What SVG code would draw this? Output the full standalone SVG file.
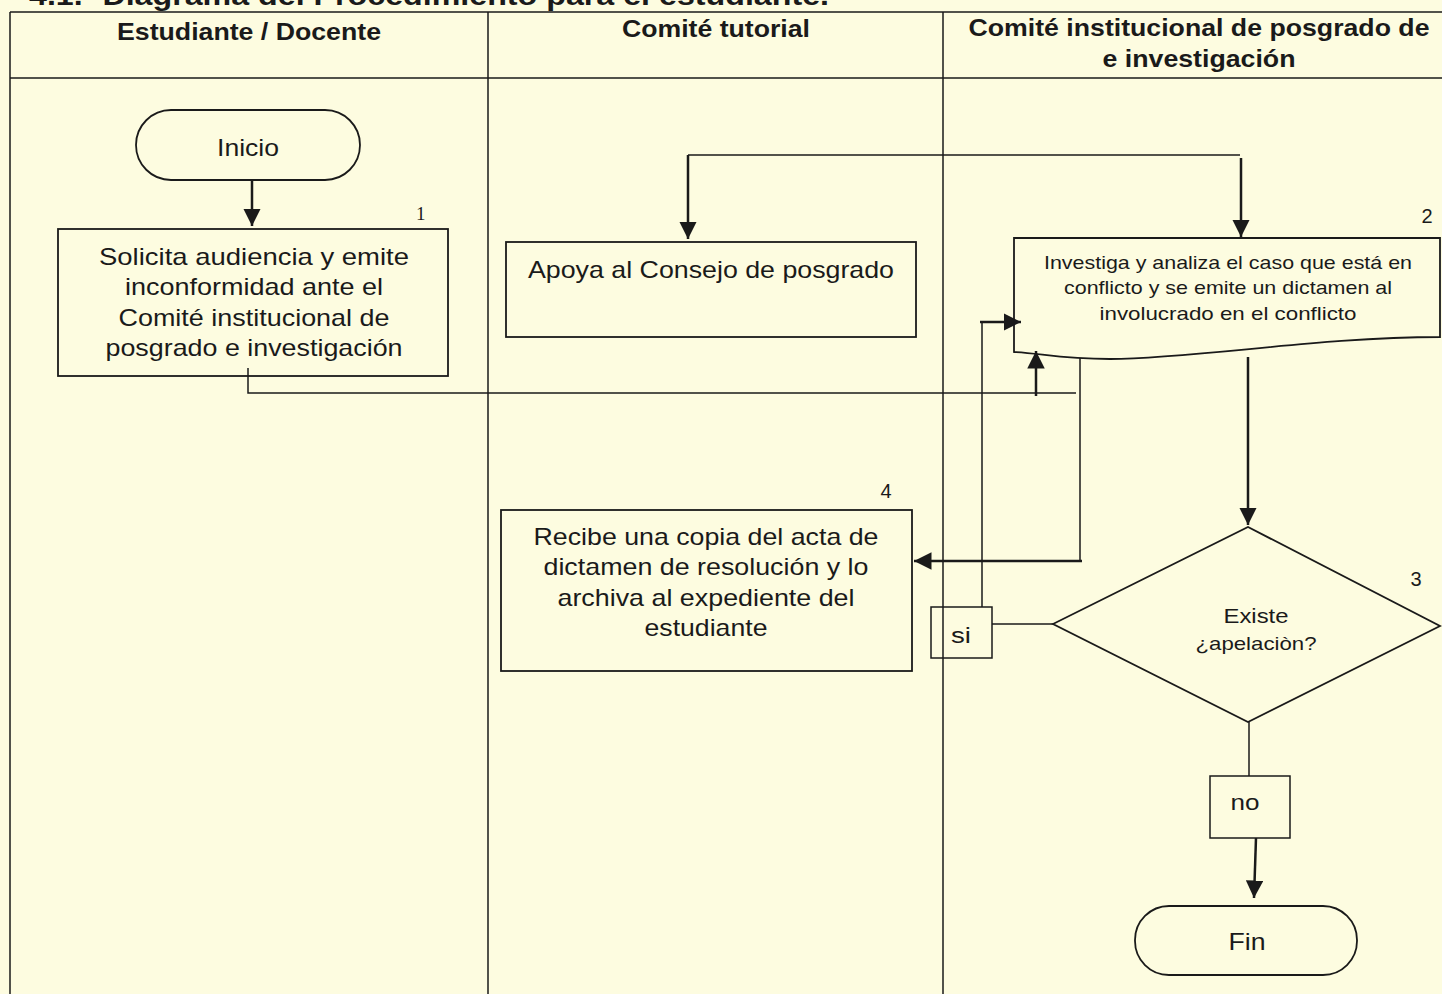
<svg xmlns="http://www.w3.org/2000/svg" width="1442" height="994" viewBox="0 0 1442 994">
<defs>
<marker id="ahb" viewBox="0 0 10 10" refX="10" refY="5" markerWidth="7" markerHeight="7" markerUnits="strokeWidth" orient="auto">
<path d="M0,0 L10,5 L0,10 Z" fill="#1a1a1a"/>
</marker>
<style>
.bg{fill:#fdfce0}
.ln{stroke:#1a1a1a;stroke-width:1.5;fill:none}
.sh{stroke:#1a1a1a;stroke-width:1.8;fill:none}
.ar{stroke:#1a1a1a;stroke-width:2.5;fill:none;marker-end:url(#ahb)}
.t{font-family:"Liberation Sans",Arial,sans-serif;fill:#1a1a1a;text-anchor:middle}
.h{font-weight:bold;font-size:24px}
.b{font-size:24px}
.s{font-size:19px}
.n{font-size:20px}
</style>
</defs>
<rect class="bg" x="0" y="0" width="1442" height="994"/>
<text class="t" x="429" y="5" textLength="800" lengthAdjust="spacingAndGlyphs" style="font-weight:bold;font-size:27px">4.1.- Diagrama del Procedimiento para el estudiante.</text>
<g id="lanes">
<path class="ln" d="M10,12 H1442 M10,12 V994 M10,78 H1442 M488,12 V994 M943,12 V994"/>
<text class="t h" x="249" y="40" textLength="264" lengthAdjust="spacingAndGlyphs">Estudiante / Docente</text>
<text class="t h" x="716" y="37" textLength="188" lengthAdjust="spacingAndGlyphs">Comité tutorial</text>
<text class="t h" x="1199" y="36" textLength="461" lengthAdjust="spacingAndGlyphs">Comité institucional de posgrado de</text>
<text class="t h" x="1199" y="67" textLength="193" lengthAdjust="spacingAndGlyphs">e investigación</text>
</g>
<g id="connectors">
<path class="ar" d="M252,181 V226"/>
<path class="ln" d="M688,155 H1240"/>
<path class="ar" d="M688,155 V239"/>
<path class="ar" d="M1241,158 V237"/>
<path class="ln" d="M248,368 V393 H1076"/>
<path class="ar" d="M1036,396 V351"/>
<path class="ln" d="M1080,358 V561"/>
<path class="ar" d="M1082,561 H914"/>
<path class="ar" d="M1248,357 V525"/>
<path class="ln" d="M1053,624 H992"/>
<path class="ln" d="M982,607 V322 H1000"/>
<path class="ar" d="M980,322 H1021"/>
<path class="ln" d="M1249,722 V776"/>
<path class="ar" d="M1256,838 L1254,898"/>
</g>
<g id="inicio">
<rect class="sh" x="136" y="110" width="224" height="70" rx="35"/>
<text class="t b" x="248" y="156" textLength="62" lengthAdjust="spacingAndGlyphs">Inicio</text>
</g>
<g id="n1">
<rect class="sh" x="58" y="229" width="390" height="147"/>
<text x="416" y="220" style="font-family:'Liberation Serif','Times New Roman',serif;font-size:19px;fill:#1a1a1a">1</text>
<text class="t b" x="254" y="265" textLength="310" lengthAdjust="spacingAndGlyphs">Solicita audiencia y  emite</text>
<text class="t b" x="254" y="295" textLength="258" lengthAdjust="spacingAndGlyphs">inconformidad ante el</text>
<text class="t b" x="254" y="326" textLength="271" lengthAdjust="spacingAndGlyphs">Comité institucional de</text>
<text class="t b" x="254" y="356" textLength="297" lengthAdjust="spacingAndGlyphs">posgrado e investigación</text>
</g>
<g id="apoya">
<rect class="sh" x="506" y="242" width="410" height="95"/>
<text class="t b" x="711" y="278" textLength="366" lengthAdjust="spacingAndGlyphs">Apoya al Consejo de posgrado</text>
</g>
<g id="n2">
<path class="sh" d="M1014,238 H1440 V337 C1320,337 1200,358 1110,359 C1060,359 1040,353 1014,352 Z"/>
<text class="t n" x="1427" y="223">2</text>
<text class="t s" x="1228" y="269" textLength="368" lengthAdjust="spacingAndGlyphs">Investiga y analiza el caso que está en</text>
<text class="t s" x="1228" y="294" textLength="328" lengthAdjust="spacingAndGlyphs">conflicto y se emite un dictamen al</text>
<text class="t s" x="1228" y="320" textLength="257" lengthAdjust="spacingAndGlyphs">involucrado en el conflicto</text>
</g>
<g id="n4">
<rect class="sh" x="501" y="510" width="411" height="161"/>
<text class="t n" x="886" y="498">4</text>
<text class="t b" x="706" y="545" textLength="345" lengthAdjust="spacingAndGlyphs">Recibe una copia del acta de</text>
<text class="t b" x="706" y="575" textLength="325" lengthAdjust="spacingAndGlyphs">dictamen de resolución y lo</text>
<text class="t b" x="706" y="606" textLength="297" lengthAdjust="spacingAndGlyphs">archiva al expediente del</text>
<text class="t b" x="706" y="636" textLength="123" lengthAdjust="spacingAndGlyphs">estudiante</text>
</g>
<g id="n3">
<polygon class="sh" points="1053,624 1248,527 1440,626 1248,722"/>
<text class="t n" x="1416" y="586">3</text>
<text class="t" x="1256" y="623" textLength="65" lengthAdjust="spacingAndGlyphs" style="font-size:21px">Existe</text>
<text class="t" x="1256" y="650" textLength="121" lengthAdjust="spacingAndGlyphs" style="font-size:19px">¿apelaciòn?</text>
</g>
<g id="si">
<rect class="ln" x="931" y="607" width="61" height="51"/>
<text class="t" x="961" y="643" textLength="20" lengthAdjust="spacingAndGlyphs" style="font-size:22px">si</text>
</g>
<g id="no">
<rect class="ln" x="1210" y="776" width="80" height="62"/>
<text class="t" x="1245" y="810" textLength="29" lengthAdjust="spacingAndGlyphs" style="font-size:22px">no</text>
</g>
<g id="fin">
<rect class="sh" x="1135" y="906" width="222" height="69" rx="34"/>
<text class="t b" x="1247" y="950" textLength="37" lengthAdjust="spacingAndGlyphs">Fin</text>
</g>
</svg>
